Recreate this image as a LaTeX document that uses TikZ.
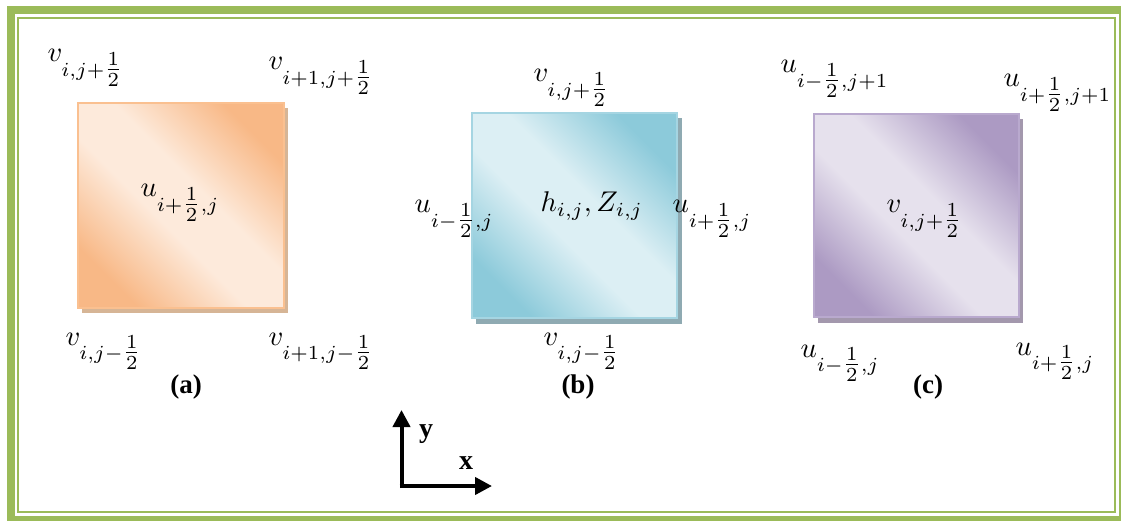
\documentclass[tikz,border=0pt]{standalone}
\usepackage{fontspec}
\newfontfamily\tnr{Liberation Serif}
\usetikzlibrary{arrows.meta}
\definecolor{grn}{HTML}{9BBB59}
\definecolor{orD}{HTML}{F8B886}
\definecolor{orL}{HTML}{FDEADB}
\definecolor{orB}{HTML}{FAC090}
\definecolor{orS}{HTML}{D6B596}
\definecolor{blD}{HTML}{8CCADA}
\definecolor{blL}{HTML}{DCEFF4}
\definecolor{blB}{HTML}{A5D5E2}
\definecolor{blS}{HTML}{8FAAB2}
\definecolor{puD}{HTML}{AC9AC3}
\definecolor{puL}{HTML}{E6E1ED}
\definecolor{puB}{HTML}{B9A9CE}
\definecolor{puS}{HTML}{A398AD}
\pgfdeclarehorizontalshading{sqor}{100bp}{color(0bp)=(orD); color(25bp)=(orD); color(44bp)=(orL); color(56bp)=(orL); color(75bp)=(orD); color(100bp)=(orD)}
\pgfdeclarehorizontalshading{sqbl}{100bp}{color(0bp)=(blD); color(25bp)=(blD); color(44bp)=(blL); color(56bp)=(blL); color(75bp)=(blD); color(100bp)=(blD)}
\pgfdeclarehorizontalshading{sqpu}{100bp}{color(0bp)=(puD); color(25bp)=(puD); color(44bp)=(puL); color(56bp)=(puL); color(75bp)=(puD); color(100bp)=(puD)}
\newcommand{\hf}{{\textstyle\frac{1}{2}}}
\tikzset{
  lbl/.style={anchor=base west, inner sep=0pt, font=\fontsize{10}{12}\selectfont, scale=2.85, transform shape},
  sublbl/.style={anchor=base, inner sep=0pt, font=\tnr\bfseries\fontsize{27}{30}\selectfont},
  axlbl/.style={anchor=base west, inner sep=0pt, font=\tnr\bfseries\fontsize{28}{30}\selectfont},
  axarrow/.style={line width=4pt, -{Triangle[length=17pt, width=17pt]}},
}
\begin{document}
\begin{tikzpicture}[x=1pt,y=1pt]
\useasboundingbox (0,-521) rectangle (1121,0);
% frame
\draw[grn, line width=8pt] (11,-10.5) rectangle (1123,-520);
\draw[grn, line width=2pt] (18,-18) rectangle (1115,-512);
% (a)
\fill[orS] (82,-108) rectangle (288,-313);
\shade[shading=sqor, shading angle=45] (78,-308) rectangle (284,-103);
\draw[orB, line width=1.5pt] (78,-103) rectangle (284,-308);
% (b)
\fill[blS] (476,-118) rectangle (682,-324);
\shade[shading=sqbl, shading angle=45] (472,-318) rectangle (677,-113);
\draw[blB, line width=1.5pt] (472,-113) rectangle (677,-318);
% (c)
\fill[puS] (818,-119) rectangle (1023,-323);
\shade[shading=sqpu, shading angle=45] (814,-317) rectangle (1019,-114);
\draw[puB, line width=1.5pt] (814,-114) rectangle (1019,-317);
% labels (a)
\node[lbl] (a1) at (47,-62) {$v_{i,j+\hf}$};
\node[lbl] (a2) at (268,-70) {$v_{i+1,j+\hf}$};
\node[lbl] (a3) at (140,-197) {$u_{i+\hf,j}$};
\node[lbl] (a4) at (65,-345) {$v_{i,j-\hf}$};
\node[lbl] (a5) at (268,-345) {$v_{i+1,j-\hf}$};
\node[sublbl] (ca) at (186,-393) {(a)};
% labels (b)
\node[lbl] (b1) at (533,-82) {$v_{i,j+\hf}$};
\node[lbl] (b2) at (414,-213) {$u_{i-\hf,j}$};
\node[lbl] (b3) at (540,-212) {$h_{i,j},Z_{i,j}$};
\node[lbl] (b4) at (672,-213) {$u_{i+\hf,j}$};
\node[lbl] (b5) at (543,-345) {$v_{i,j-\hf}$};
\node[sublbl] (cb) at (578,-393) {(b)};
% labels (c)
\node[lbl] (c1) at (780,-73) {$u_{i-\hf,j+1}$};
\node[lbl] (c2) at (1003,-87) {$u_{i+\hf,j+1}$};
\node[lbl] (c3) at (886,-213) {$v_{i,j+\hf}$};
\node[lbl] (c4) at (800,-357) {$u_{i-\hf,j}$};
\node[lbl] (c5) at (1015,-355) {$u_{i+\hf,j}$};
\node[sublbl] (cc) at (928,-393) {(c)};
% axes
\coordinate (o) at (401.5,-486);
\coordinate (ytip) at (401.5,-410);
\coordinate (xtip) at (492,-486);
\draw[axarrow] ([xshift=-2pt]o) -- (xtip);
\draw[axarrow] ([yshift=-2pt]o) -- (ytip);
\node[axlbl] (ylab) at (419,-437) {y};
\node[axlbl] (xlab) at (459,-469) {x};
\end{tikzpicture}
\end{document}
